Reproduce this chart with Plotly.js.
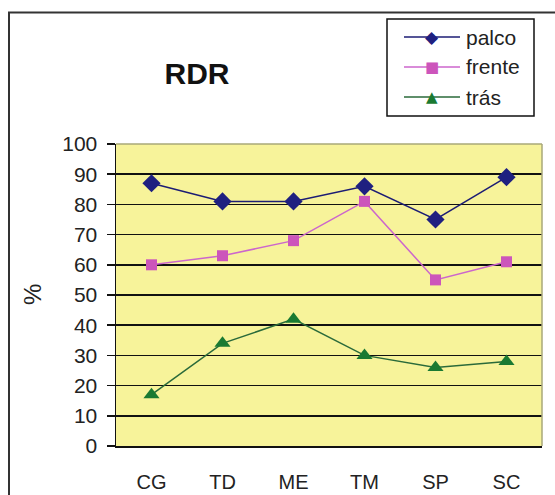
<!DOCTYPE html>
<html>
<head>
<meta charset="utf-8">
<script src="https://cdn.plot.ly/plotly-3.0.1.min.js"></script>
<style>html,body{margin:0;padding:0;background:#fff;}#chart{width:555px;height:495px;}</style>
</head>
<body>
<div id="chart"></div>
<script>
const categories = ["CG", "TD", "ME", "TM", "SP", "SC"];
const palco = [87, 81, 81, 86, 75, 89];
const frente = [60, 63, 68, 81, 55, 61];
const tras = [17, 34, 42, 30, 26, 28];
const seriesNames = ["palco", "frente", "trás"];
const yTicks = [0, 10, 20, 30, 40, 50, 60, 70, 80, 90, 100];

const font = "Arial, 'Liberation Sans', sans-serif";
const lineColors = ["#1c1c74", "#cc66cc", "#2a6a3a"];
const markerColors = ["#1f2080", "#cc55bb", "#1a7a32"];
const markerSymbols = ["diamond", "square", "triangle-up"];
const markerSizes = [14, 11, 14];
const legendGlyphs = ["\u25C6", "\u25A0", "\u25B2"];
const legendGlyphSizes = [17, 15, 15];

const seriesData = [palco, frente, tras];
const traces = seriesData.map((vals, i) => ({
  x: categories, y: vals, name: seriesNames[i], type: "scatter", mode: "lines+markers",
  line: {color: lineColors[i], width: 1.5},
  marker: {symbol: markerSymbols[i], size: markerSizes[i], color: markerColors[i]}
}));

// plot area in pixels: x 116..542, y 144..446
const PL = 116, PW = 426, PB = 446, PH = 302;
const px = v => (v - PL) / PW;
const py = v => (PB - v) / PH;

const shapes = [
  {type: "line", xref: "paper", yref: "paper", x0: 0, x1: 1, y0: 1, y1: 1, line: {color: "#a8a878", width: 1.5}, layer: "above"},
  {type: "line", xref: "paper", yref: "paper", x0: 1, x1: 1, y0: 0, y1: 1, line: {color: "#a8a878", width: 1.5}, layer: "above"},
  {type: "rect", xref: "paper", yref: "paper", x0: px(9), x1: px(600), y0: py(540), y1: py(12.5),
   line: {color: "#333", width: 2}, fillcolor: "rgba(0,0,0,0)", layer: "below"},
  // legend box
  {type: "rect", xref: "paper", yref: "paper", x0: px(387), x1: px(534), y0: py(116), y1: py(19),
   line: {color: "#111", width: 1.5}, fillcolor: "#ffffff", layer: "above"}
];
const annotations = [
  {text: "%", xref: "paper", yref: "paper", x: px(32), y: 0.5, textangle: -90,
   showarrow: false, xanchor: "center", yanchor: "middle", font: {family: font, size: 24, color: "#222"}}
];
const rowY = [37, 67, 97];
seriesNames.forEach((n, i) => {
  shapes.push({type: "line", xref: "paper", yref: "paper", x0: px(404), x1: px(460), y0: py(rowY[i]), y1: py(rowY[i]),
               line: {color: lineColors[i], width: 1.5}, layer: "above"});
  annotations.push({text: legendGlyphs[i], xref: "paper", yref: "paper", x: px(432), y: py(rowY[i]),
                    showarrow: false, xanchor: "center", yanchor: "middle",
                    font: {family: "DejaVu Sans", size: legendGlyphSizes[i], color: markerColors[i]}});
  annotations.push({text: n, xref: "paper", yref: "paper", x: px(464), y: py(rowY[i]),
                    showarrow: false, xanchor: "left", yanchor: "middle",
                    font: {family: font, size: 21, color: "#222"}});
});

const layout = {
  width: 555, height: 495,
  margin: {l: 116, r: 13, t: 144, b: 49},
  paper_bgcolor: "#ffffff",
  plot_bgcolor: "#f7f39a",
  font: {family: font, color: "#222", size: 21},
  title: {text: "<b>RDR</b>", font: {family: font, size: 30, color: "#111"},
          xref: "container", yref: "container", x: 0.355, y: 0.852, xanchor: "center", yanchor: "middle"},
  showlegend: false,
  xaxis: {type: "category", range: [-0.5, 5.5], showgrid: false, zeroline: false,
          showline: true, linecolor: "#111", linewidth: 1.5, ticks: "",
          ticklabelstandoff: 17, tickfont: {family: font, size: 20, color: "#222"}, fixedrange: true},
  yaxis: {range: [0, 100], tickvals: yTicks, showgrid: true, gridcolor: "#111", gridwidth: 1.5,
          zeroline: false, showline: true, linecolor: "#111", linewidth: 1.5,
          ticks: "outside", ticklen: 8, tickwidth: 1.5, tickcolor: "#111", ticklabelstandoff: 5,
          tickfont: {family: font, size: 21, color: "#222"}, fixedrange: true},
  annotations: annotations,
  shapes: shapes
};

Plotly.newPlot("chart", traces, layout, {displayModeBar: false, staticPlot: true});
</script>
</body>
</html>
